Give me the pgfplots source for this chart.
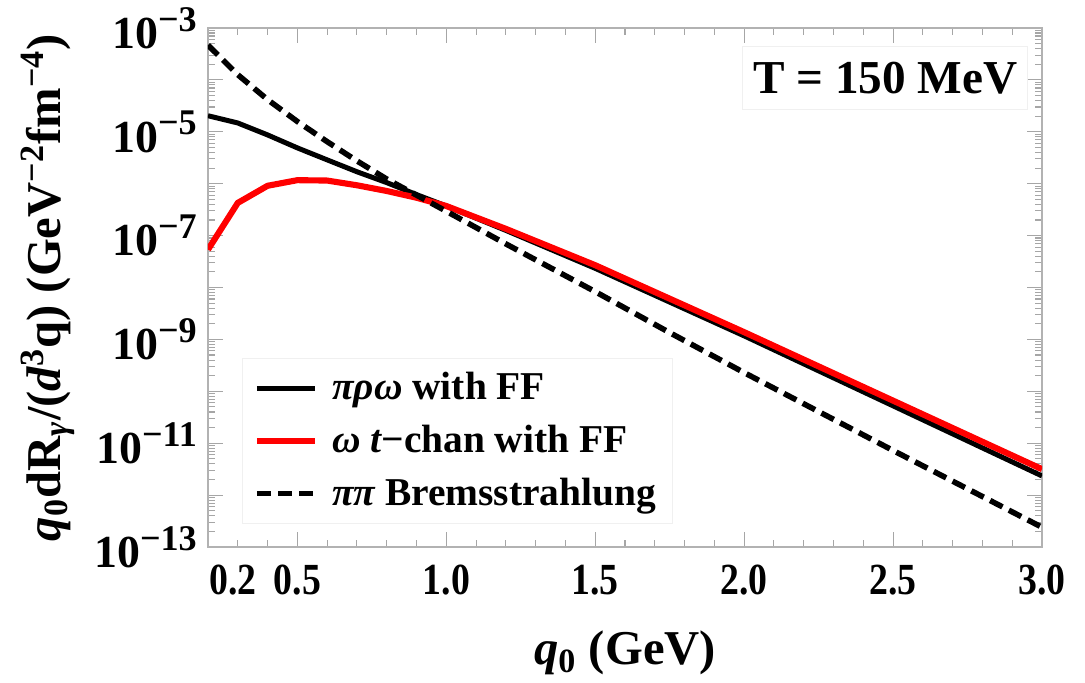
\documentclass[border=0pt]{standalone}
\usepackage{fontspec}
\setmainfont{Liberation Serif}
\newfontfamily\condfont{Liberation Serif}[FakeStretch=0.85]
\usepackage{pgfplots}
\pgfplotsset{compat=1.18}

% exponent of the y tick labels
\newcommand\ex[1]{\textsuperscript{\fontsize{13}{13}\selectfont #1}}

% minor log ticks 2..9 in every decade
\def\minorlist{2e-13}
\foreach \e in {-13,...,-4}{\foreach \m in {2,...,9}{\xdef\minorlist{\minorlist,\m e\e}}}

\begin{document}
\begin{tikzpicture}
% 1 px of the reference = 0.36pt
\useasboundingbox (0pt,0pt) rectangle (390.6pt,245.88pt);
\begin{axis}[
  at={(74.88pt,48.96pt)}, anchor=south west,
  width=300.24pt, height=186.84pt, scale only axis,
  ymode=log,
  xmin=0.2, xmax=3, ymin=1e-13, ymax=1e-3,
  xtick={0.2,0.5,1,1.5,2,2.5,3},
  xticklabels={\hspace*{18pt}0.2,0.5,1.0,1.5,2.0,2.5,3.0},
  minor xtick={0.3,0.4,0.6,0.7,0.8,0.9,1.1,1.2,1.3,1.4,1.6,1.7,1.8,1.9,2.1,2.2,2.3,2.4,2.6,2.7,2.8,2.9},
  ytick={1e-13,1e-12,1e-11,1e-10,1e-9,1e-8,1e-7,1e-6,1e-5,1e-4,1e-3},
  yticklabels={10\ex{−13},,10\ex{−11},,10\ex{−9},,10\ex{−7},,10\ex{−5},,10\ex{−3}},
  minor ytick/.expanded={\minorlist},
  tick align=inside,
  major tick length=5.4pt, minor tick length=2.6pt,
  tick style={gray!70, line width=0.4pt},
  axis line style={gray!60, line width=0.5pt},
  xticklabel style={font=\condfont\bfseries\fontsize{16}{18}\selectfont, yshift=-3pt},
  yticklabel style={font=\bfseries\fontsize{16.5}{19}\selectfont},
  xlabel={{\itshape q}\textsubscript{0} (GeV)},
  ylabel={{\itshape q}\textsubscript{0}dR\textsubscript{\itshape γ}/({\itshape d}\textsuperscript{3}q) (GeV\textsuperscript{−2}fm\textsuperscript{−4})},
  label style={font=\bfseries\fontsize{17.5}{20}\selectfont},
  xlabel style={yshift=-6pt},
  legend style={at={(0.041,0.364)}, anchor=north west, draw=gray!12, fill=white,
    font=\bfseries\fontsize{14.2}{17}\selectfont, row sep=3.6pt,
    inner xsep=4pt, inner ysep=3pt},
  legend cell align=left,
  legend image code/.code={\draw[#1] (0pt,0pt) -- (21pt,0pt); \path (24pt,0pt);},
]
\addplot[black, line width=1.8pt] coordinates {
 (0.2,2.04e-5) (0.3,1.48e-5) (0.4,8.71e-6) (0.5,4.90e-6) (0.6,2.88e-6)
 (0.7,1.70e-6) (0.8,1.05e-6) (0.9,6.17e-7) (1.0,3.72e-7) (1.2,1.26e-7)
 (1.5,2.34e-8) (2.0,1.17e-9) (2.5,5.25e-11) (3.0,2.34e-12)};
\addlegendentry{{\itshape πρω} with FF}
\addplot[red, line width=2.2pt] coordinates {
 (0.2,5.37e-8) (0.3,4.27e-7) (0.4,9.12e-7) (0.5,1.17e-6) (0.6,1.15e-6)
 (0.7,9.33e-7) (0.8,7.24e-7) (0.9,5.37e-7) (1.0,3.72e-7) (1.2,1.35e-7)
 (1.5,2.69e-8) (2.0,1.38e-9) (2.5,6.61e-11) (3.0,3.16e-12)};
\addlegendentry{{\itshape ω t}−chan with FF}
\addplot[black, line width=2pt, dash pattern=on 5pt off 2.6pt] coordinates {
 (0.2,4.68e-4) (0.3,1.26e-4) (0.4,4.17e-5) (0.5,1.58e-5) (0.6,6.46e-6)
 (0.7,2.75e-6) (0.8,1.23e-6) (0.9,6.03e-7) (1.0,2.95e-7) (1.2,6.92e-8)
 (1.5,8.32e-9) (1.75,1.35e-9) (2.0,2.29e-10) (2.25,4.07e-11) (2.5,7.24e-12)
 (2.75,1.32e-12) (3.0,2.40e-13)};
\addlegendentry{{\itshape ππ} Bremsstrahlung}
\node[draw=gray!12, fill=white, minimum width=102.6pt, minimum height=22.7pt,
  font=\bfseries\fontsize{17}{20}\selectfont] at (rel axis cs:0.812,0.904) {T = 150 MeV};
\end{axis}
\end{tikzpicture}
\end{document}
